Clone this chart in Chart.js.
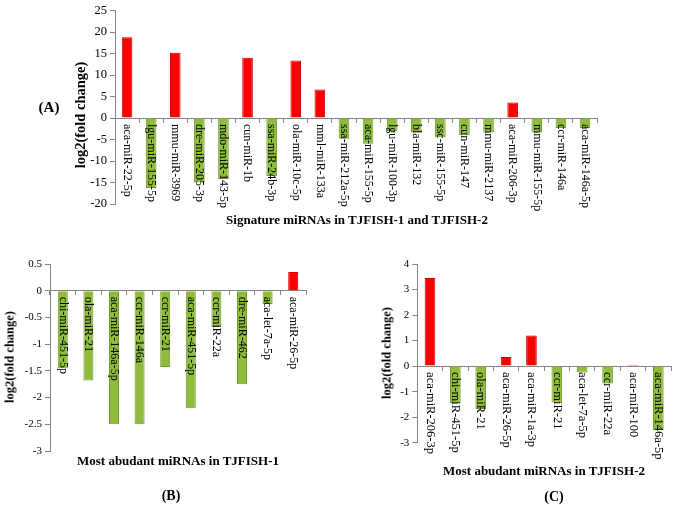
<!DOCTYPE html>
<html>
<head>
<meta charset="utf-8">
<script src="https://cdn.jsdelivr.net/npm/chart.js@4.4.0/dist/chart.umd.min.js"></script>
<style>
  html, body { margin: 0; padding: 0; background: #fff; }
  #page { position: relative; width: 675px; height: 505px; overflow: hidden; font-family: "Liberation Serif", "Times New Roman", serif; }
  canvas { position: absolute; }
  .lbl { position: absolute; font-weight: bold; color: #000; white-space: nowrap; transform: translate(-50%, -50%); }
  .ytl { position: absolute; font-weight: bold; color: #000; white-space: nowrap; transform: translate(-50%, -50%) rotate(-90deg); }
</style>
</head>
<body>
<div id="page">
  <canvas id="chartA" style="left:0;top:0"></canvas>
  <canvas id="chartB" style="left:0;top:230px"></canvas>
  <canvas id="chartC" style="left:340px;top:230px"></canvas>

  <div class="ytl" style="left:80px;top:115px;font-size:14.5px">log2(fold change)</div>
  <div class="lbl" style="left:49px;top:107px;font-size:15px">(A)</div>
  <div class="lbl" style="left:357px;top:220px;font-size:13px">Signature miRNAs in TJFISH-1 and TJFISH-2</div>

  <div class="ytl" style="left:10px;top:357px;font-size:12.5px">log2(fold change)</div>
  <div class="lbl" style="left:178px;top:461px;font-size:13px">Most abudant miRNAs in TJFISH-1</div>
  <div class="lbl" style="left:171px;top:496px;font-size:14px">(B)</div>

  <div class="ytl" style="left:387px;top:353px;font-size:12.5px">log2(fold change)</div>
  <div class="lbl" style="left:544px;top:471px;font-size:13px">Most abudant miRNAs in TJFISH-2</div>
  <div class="lbl" style="left:554px;top:497px;font-size:14px">(C)</div>
</div>
<script>
// (A) signature miRNAs
const labelsA = ['aca-miR-22-5p','lgu-miR-155-5p','mmu-miR-3969','dre-miR-205-3p','mdo-miR-143-5p',
  'cun-miR-1b','ssa-miR-24b-3p','ola-miR-10c-5p','mml-miR-133a','ssa-miR-212a-5p','aca-miR-155-5p',
  'lgu-miR-100-3p','bla-miR-132','ssc-miR-155-5p','cun-miR-147','mmu-miR-2137','aca-miR-206-3p',
  'mmu-miR-155-5p','ccr-miR-146a','aca-miR-146a-5p'];
const valuesA = [18.8,-16.3,15.2,-15.0,-14.2,14.0,-13.5,13.4,6.6,-4.8,-6.0,-3.0,-3.4,-4.5,-4.0,-3.4,3.6,-3.4,-2.3,-2.3];
const ticksA = [25,20,15,10,5,0,-5,-10,-15,-20];

// (B) most abundant in TJFISH-1
const labelsB = ['chi-miR-451-5p','ola-miR-21','aca-miR-146a-5p','ccr-miR-146a','ccr-miR-21',
  'aca-miR-451-5p','ccr-miR-22a','dre-miR-462','aca-let-7a-5p','aca-miR-26-5p'];
const valuesB = [-1.45,-1.68,-2.5,-2.5,-1.43,-2.2,-0.68,-1.75,-0.25,0.35];
const ticksB = [0.5,0,-0.5,-1,-1.5,-2,-2.5,-3];

// (C) most abundant in TJFISH-2
const labelsC = ['aca-miR-206-3p','chi-miR-451-5p','ola-miR-21','aca-miR-26-5p','aca-miR-1a-3p',
  'ccr-miR-21','aca-let-7a-5p','ccr-miR-22a','aca-miR-100','aca-miR-146a-5p'];
const valuesC = [3.45,-1.44,-1.68,0.36,1.2,-1.43,-0.25,-0.68,0.05,-2.5];
const ticksC = [4,3,2,1,0,-1,-2,-3];

const FONT = '"Liberation Serif", "Times New Roman", serif';
const AXIS = '#868686';

// category names drawn rotated clockwise, starting just under the zero line
const catLabels = {
  id: 'catLabels',
  afterDatasetsDraw(chart, args, opts) {
    const {ctx, scales: {x, y}} = chart;
    const y0 = y.getPixelForValue(0) + 6;
    ctx.save();
    ctx.font = opts.size + 'px ' + FONT;
    ctx.fillStyle = '#000';
    ctx.textAlign = 'left';
    ctx.textBaseline = 'middle';
    chart.data.labels.forEach((lab, i) => {
      ctx.save();
      ctx.translate(x.getPixelForValue(i), y0);
      ctx.rotate(Math.PI / 2);
      ctx.fillText(lab, 0, 0);
      ctx.restore();
    });
    ctx.restore();
  }
};

function makeChart(id, w, h, labels, values, ticks, pad, yWidth, tickSize, catSize, barPct) {
  const el = document.getElementById(id);
  el.width = w; el.height = h;
  el.style.width = w + 'px'; el.style.height = h + 'px';
  const step = ticks[0] - ticks[1];
  return new Chart(el, {
    type: 'bar',
    data: {
      labels: labels,
      datasets: [{
        data: values,
        backgroundColor: values.map(v => v > 0 ? '#ff0000' : '#8fbc3c'),
        borderColor: values.map(v => v > 0 ? '#cc0000' : '#6f9a2a'),
        borderWidth: 1,
        categoryPercentage: 1,
        barPercentage: barPct
      }]
    },
    options: {
      responsive: false,
      animation: false,
      layout: { padding: pad },
      plugins: { legend: { display: false }, tooltip: { enabled: false }, catLabels: { size: catSize } },
      scales: {
        x: {
          position: { y: 0 },
          ticks: { display: false },
          grid: { drawOnChartArea: false, drawTicks: true, tickLength: 4, color: AXIS },
          border: { color: AXIS, width: 1 }
        },
        y: {
          min: ticks[ticks.length - 1],
          max: ticks[0],
          afterFit: s => { s.width = yWidth; },
          ticks: {
            stepSize: step, color: '#000', padding: 3,
            font: { family: FONT, size: tickSize },
            callback: v => String(+v.toFixed(2))
          },
          grid: { drawOnChartArea: false, drawTicks: true, tickLength: 5, color: AXIS },
          border: { color: AXIS, width: 1 }
        }
      }
    },
    plugins: [catLabels]
  });
}

makeChart('chartA', 675, 230, labelsA, valuesA, ticksA, { left: 60, top: 7.5, right: 78, bottom: 26 }, 55, 12.5, 12, 0.44);
makeChart('chartB', 340, 275, labelsB, valuesB, ticksB, { left: 20, top: 34, right: 34, bottom: 54 }, 30, 11, 12, 0.39);
makeChart('chartC', 335, 275, labelsC, valuesC, ticksC, { left: 40, top: 34, right: 4, bottom: 62.3 }, 37.3, 11, 12.5, 0.42);
</script>
</body>
</html>
